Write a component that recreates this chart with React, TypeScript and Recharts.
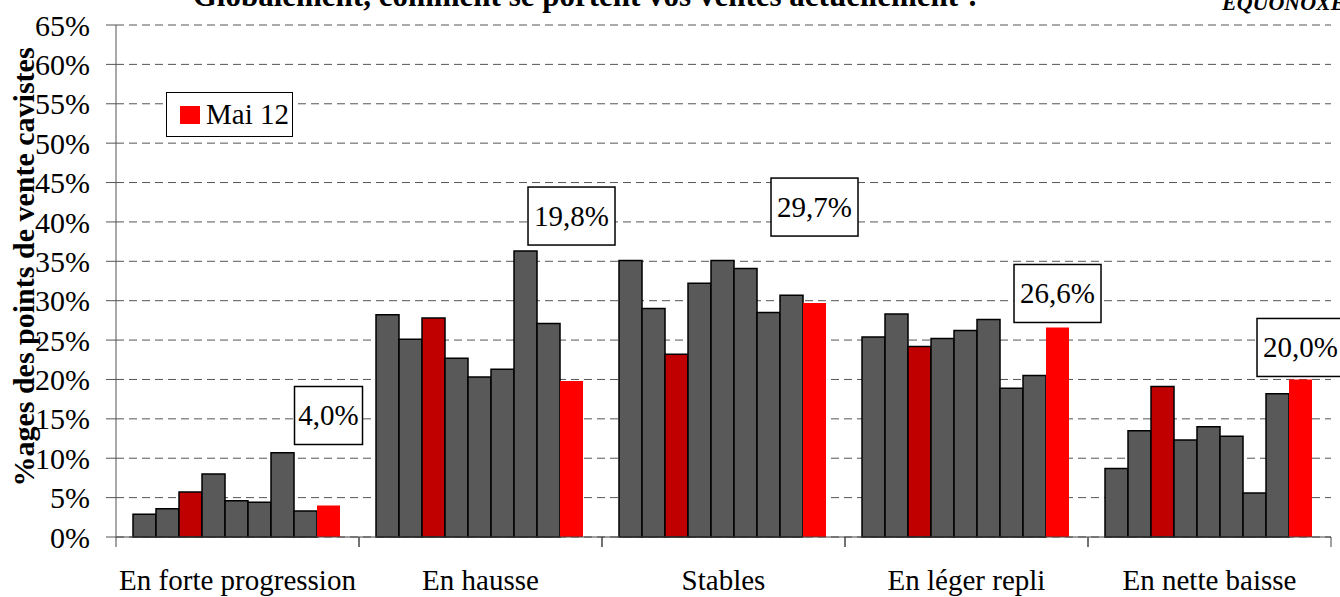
import React from "react";
import {
  Bar,
  BarChart,
  CartesianGrid,
  Label,
  LabelList,
  XAxis,
  YAxis,
} from "recharts";

const categories = [
  "En forte progression",
  "En hausse",
  "Stables",
  "En léger repli",
  "En nette baisse",
];

// earlier waves (in %)
const wave1 = [2.9, 28.2, 35.1, 25.4, 8.7];
const wave2 = [3.6, 25.1, 29.0, 28.3, 13.5];
const wave3 = [5.7, 27.8, 23.2, 24.2, 19.1];
const wave4 = [8.0, 22.7, 32.2, 25.2, 12.3];
const wave5 = [4.6, 20.3, 35.1, 26.2, 14.0];
const wave6 = [4.4, 21.3, 34.1, 27.6, 12.8];
const wave7 = [10.7, 36.3, 28.5, 18.9, 5.6];
const wave8 = [3.3, 27.1, 30.7, 20.5, 18.2];
const mai12 = [4.0, 19.8, 29.7, 26.6, 20.0];

const yTicks = [0, 5, 10, 15, 20, 25, 30, 35, 40, 45, 50, 55, 60, 65];

const data = categories.map((name, i) => ({
  name,
  w1: wave1[i],
  w2: wave2[i],
  w3: wave3[i],
  w4: wave4[i],
  w5: wave5[i],
  w6: wave6[i],
  w7: wave7[i],
  w8: wave8[i],
  mai12: mai12[i],
}));

const serif = "Liberation Serif, DejaVu Serif, Noto Serif, serif";
const gray = "#595959";
const darkRed = "#c00000";
const red = "#ff0000";
const bandHalf = 121.5;
// how far each value box sits above its bar (px, as placed in the original)
const labelLift = [90, 165, 96, 34, 32];

const fmt = (v: number) => v.toFixed(1).replace(".", ",") + "%";

function CategoryTick(props: any) {
  const { x, y, payload } = props;
  return (
    <g>
      <line x1={x - bandHalf} x2={x - bandHalf} y1={y} y2={y + 10} stroke="#444" />
      <line x1={x + bandHalf} x2={x + bandHalf} y1={y} y2={y + 10} stroke="#444" />
      <text x={x} y={y + 53} textAnchor="middle" fontSize={29} fontFamily={serif} fill="#000">
        {payload.value}
      </text>
    </g>
  );
}

function BoxLabel(props: any) {
  const x = Number(props.x);
  const y = Number(props.y);
  const w = Number(props.width);
  const idx = Number(props.index);
  const text = fmt(Number(props.value));
  const bw = text.length === 4 ? 68 : 87;
  const bh = 58;
  const cx = x + w / 2;
  const cy = y - labelLift[idx];
  return (
    <g>
      <rect x={cx - bw / 2} y={cy - bh / 2} width={bw} height={bh} fill="#fff" stroke="#000" strokeWidth={1.5} />
      <text x={cx} y={cy + 10} textAnchor="middle" fontSize={29} fontFamily={serif} fill="#000">
        {text}
      </text>
    </g>
  );
}

function YTitle(props: any) {
  const vb = props.viewBox || { x: 0, y: 25, width: 116, height: 512 };
  const x = vb.x + 23;
  const y = vb.y + vb.height / 2 - 14;
  return (
    <text
      x={x}
      y={y}
      transform={`rotate(-90 ${x} ${y})`}
      textAnchor="middle"
      dominantBaseline="central"
      fontSize={30}
      fontWeight="bold"
      fontFamily={serif}
      fill="#000"
    >
      %ages des points de vente cavistes
    </text>
  );
}

function LegendBox() {
  return (
    <div
      style={{
        position: "absolute",
        left: 166,
        top: 92,
        border: "1.5px solid #000",
        background: "#fff",
        width: 127,
        height: 45,
        boxSizing: "border-box",
        display: "flex",
        alignItems: "center",
        paddingLeft: 13,
        fontFamily: serif,
        fontSize: 29,
        zIndex: 2,
      }}
    >
      <span style={{ width: 20, height: 18, background: red, marginRight: 6 }} />
      Mai 12
    </div>
  );
}

export default function App() {
  const strokeProps = { stroke: "#000", strokeWidth: 1.5 };
  return (
    <div style={{ position: "absolute", left: 0, top: 0, width: 1340, height: 597, background: "#fff", overflow: "hidden" }}>
      <div
        style={{
          position: "absolute",
          left: 0,
          width: 1174,
          top: -20,
          textAlign: "center",
          fontFamily: serif,
          fontWeight: "bold",
          fontSize: 31,
          lineHeight: "31px",
          whiteSpace: "nowrap",
          zIndex: 2,
        }}
      >
        Globalement, comment se portent vos ventes actuellement ?
      </div>
      <div
        style={{
          position: "absolute",
          left: 1222,
          top: -8,
          fontFamily: serif,
          fontWeight: "bold",
          fontStyle: "italic",
          fontSize: 22,
          lineHeight: "22px",
          whiteSpace: "nowrap",
          zIndex: 2,
        }}
      >
        EQUONOXE
      </div>
      <LegendBox />
      <BarChart
        width={1340}
        height={597}
        data={data}
        margin={{ top: 25, right: 9, bottom: 0, left: 0 }}
        barCategoryGap="7%"
        barGap={0}
      >
        <CartesianGrid vertical={false} stroke="#555" strokeDasharray="8 5" />
        <XAxis
          dataKey="name"
          height={60}
          tickSize={0}
          tickMargin={0}
          stroke="#444"
          tick={<CategoryTick />}
          interval={0}
        />
        <YAxis
          width={116}
          domain={[0, 65]}
          ticks={yTicks}
          interval={0}
          tickFormatter={(v: number) => `${v}%`}
          tickSize={10}
          tickMargin={16}
          stroke="#555"
          tick={{ fontSize: 30, fontFamily: serif, fill: "#000" }}
        >
          <Label content={<YTitle />} />
        </YAxis>
        <Bar dataKey="w1" fill={gray} {...strokeProps} isAnimationActive={false} />
        <Bar dataKey="w2" fill={gray} {...strokeProps} isAnimationActive={false} />
        <Bar dataKey="w3" fill={darkRed} {...strokeProps} isAnimationActive={false} />
        <Bar dataKey="w4" fill={gray} {...strokeProps} isAnimationActive={false} />
        <Bar dataKey="w5" fill={gray} {...strokeProps} isAnimationActive={false} />
        <Bar dataKey="w6" fill={gray} {...strokeProps} isAnimationActive={false} />
        <Bar dataKey="w7" fill={gray} {...strokeProps} isAnimationActive={false} />
        <Bar dataKey="w8" fill={gray} {...strokeProps} isAnimationActive={false} />
        <Bar dataKey="mai12" name="Mai 12" fill={red} isAnimationActive={false}>
          <LabelList dataKey="mai12" content={<BoxLabel />} />
        </Bar>
      </BarChart>
    </div>
  );
}
